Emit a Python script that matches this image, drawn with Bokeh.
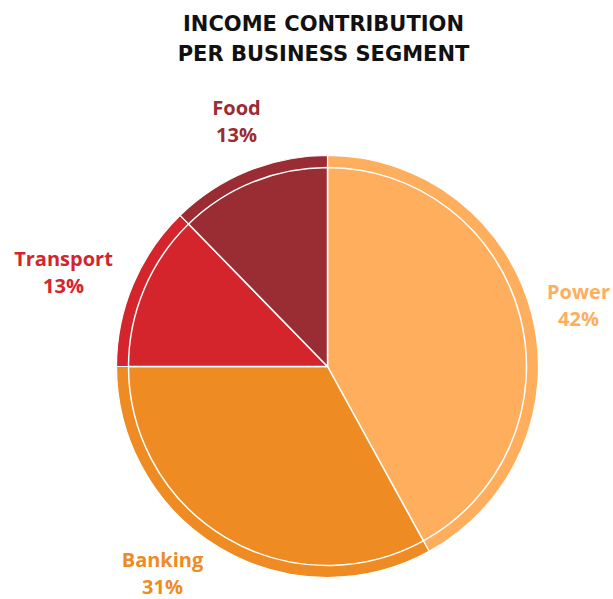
import math
from bokeh.plotting import figure
from bokeh.models import ColumnDataSource, Range1d
from bokeh.core.properties import value
from bokeh.embed import file_html
from bokeh.resources import INLINE

# ---- data ----
segments = ["Power", "Banking", "Transport", "Food"]
shares = [42.0, 33.0, 12.7, 12.3]          # slice sizes as drawn
pct_labels = ["42%", "31%", "13%", "13%"]  # printed labels
colors = ["#FFAE5E", "#EE8B22", "#D4242C", "#992D33"]
title_lines = ["INCOME CONTRIBUTION", "PER BUSINESS SEGMENT"]

# ---- layout ----
W, H = 613, 599
cx, cy = 327, H - 366
R_outer, R_inner = 211, 199
label_x = [578, 162, 63, 236]
label_y = [H - 291, H - 559, H - 258, H - 107]
line_gap = 27

total = sum(shares)
starts, ends = [], []
a = 90.0
for s in shares:
    span = s / total * 360.0
    ends.append(math.radians(a))
    starts.append(math.radians(a - span))
    a -= span

src = ColumnDataSource(dict(
    x=[cx] * len(segments), y=[cy] * len(segments),
    start=starts, end=ends, color=colors, seg=segments, pct=pct_labels,
    lx=label_x, ly=label_y, ly2=[v - line_gap for v in label_y],
))

p = figure(width=W, height=H, output_backend="svg", toolbar_location=None,
           x_range=Range1d(0, W), y_range=Range1d(0, H), min_border=0)
p.axis.visible = False
p.grid.visible = False
p.outline_line_color = None
p.background_fill_color = "white"

p.wedge(x="x", y="y", radius=R_outer, start_angle="start", end_angle="end",
        fill_color="color", line_color="white", line_width=1.2, source=src)
p.wedge(x="x", y="y", radius=R_inner, start_angle="start", end_angle="end",
        fill_color="color", line_color="white", line_width=1.5, source=src)

p.text(x="lx", y="ly", text="seg", text_color="color", source=src,
       text_font=value("Open Sans"), text_font_style="bold",
       text_font_size="20px", text_align="center", text_baseline="middle")
p.text(x="lx", y="ly2", text="pct", text_color="color", source=src,
       text_font=value("Open Sans"), text_font_style="bold",
       text_font_size="20px", text_align="center", text_baseline="middle")

p.text(x=[323, 323], y=[H - 23, H - 53], text=title_lines,
       text_color="#111111", text_font=value("DejaVu Sans"),
       text_font_style="bold", text_font_size="21px",
       text_align="center", text_baseline="middle")

open("out.html", "w").write(file_html(p, INLINE))
